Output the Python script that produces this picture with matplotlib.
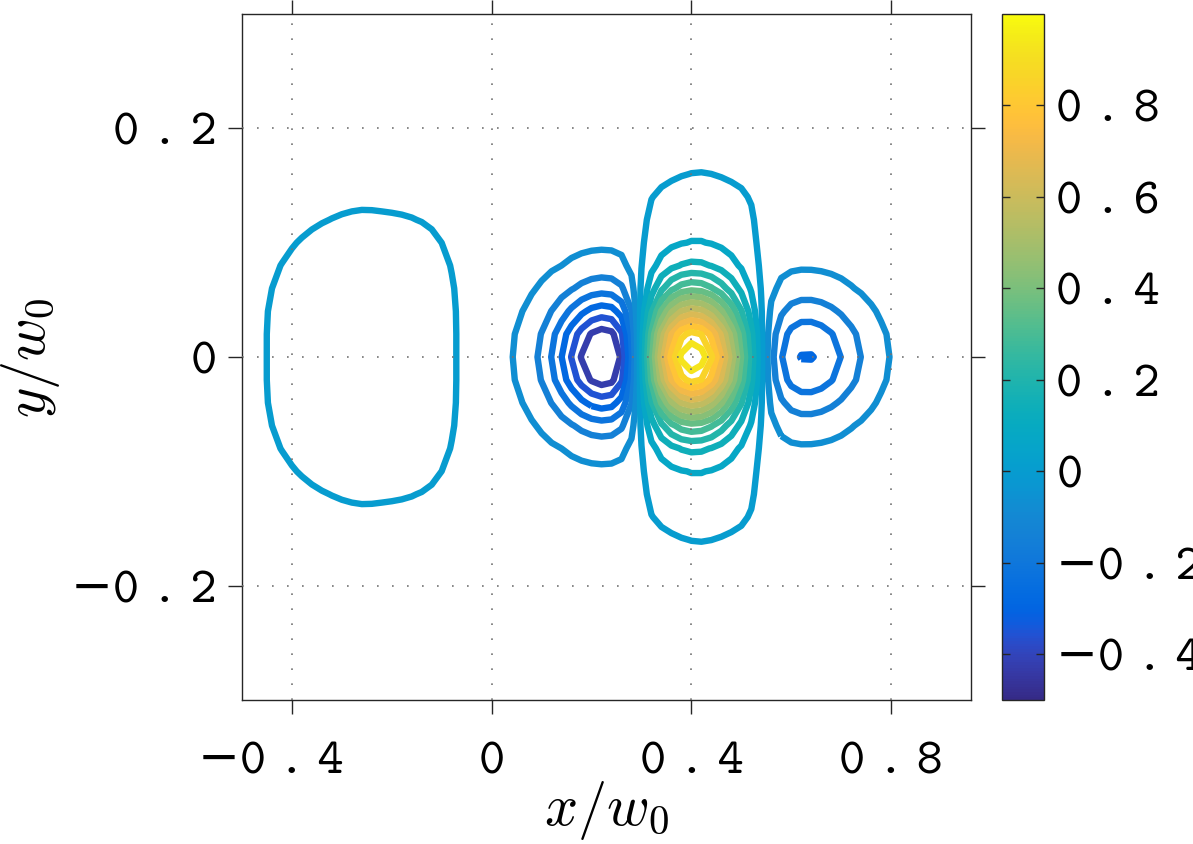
import numpy as np
import matplotlib
matplotlib.use("Agg")
import matplotlib.pyplot as plt
from matplotlib.colors import LinearSegmentedColormap, Normalize
from matplotlib.cm import ScalarMappable
from matplotlib.transforms import blended_transform_factory, ScaledTranslation

plt.rcParams["mathtext.fontset"] = "cm"

# ---------------- data ----------------
# field components: amplitude, centre x, left/right x-width & power, y-width & power
comp_amp = [0.97, -0.53, -0.257, 0.06, 0.03, 0.10, -0.05]
comp_cx = [0.40, 0.243, 0.622, 0.417, 0.415, -0.245, 0.30]
comp_wxl = [0.100, 0.115, 0.100, 0.124, 0.080, 0.167, 0.90]
comp_wxr = [0.105, 0.075, 0.123, 0.124, 0.080, 0.181, 0.90]
comp_pxl = [2, 2, 2, 8, 2, 1.6, 2]
comp_pxr = [2, 2, 2, 8, 2, 4, 2]
comp_wy = [0.055, 0.054, 0.052, 0.160, 0.180, 0.119, 0.30]
comp_py = [2, 2, 2, 6, 4, 3, 2]

contour_levels = [-0.4286, -0.3571, -0.2857, -0.2143, -0.1429, -0.0714, 0.0,
                  0.0714, 0.1429, 0.2143, 0.2857, 0.3571, 0.4286, 0.5,
                  0.5714, 0.6429, 0.7143, 0.7857, 0.8571, 0.9286]
color_limits = [-0.5, 1.0]

x_ticks = [-0.4, 0, 0.4, 0.8]
x_tick_labels = ["-0.4", "0", "0.4", "0.8"]
y_ticks = [-0.2, 0, 0.2]
y_tick_labels = ["-0.2", "0", "0.2"]
cb_ticks = [-0.4, -0.2, 0, 0.2, 0.4, 0.6, 0.8]
cb_tick_labels = ["-0.4", "-0.2", "0", "0.2", "0.4", "0.6", "0.8"]

# ---------------- parula colormap ----------------
parula_rgb = [
    (0.2081, 0.1663, 0.5292), (0.2116, 0.1898, 0.5777), (0.2123, 0.2138, 0.6270),
    (0.2081, 0.2386, 0.6771), (0.1959, 0.2645, 0.7279), (0.1707, 0.2919, 0.7792),
    (0.1253, 0.3242, 0.8303), (0.0591, 0.3598, 0.8683), (0.0117, 0.3875, 0.8820),
    (0.0060, 0.4086, 0.8828), (0.0165, 0.4266, 0.8786), (0.0329, 0.4430, 0.8720),
    (0.0498, 0.4586, 0.8641), (0.0629, 0.4737, 0.8554), (0.0723, 0.4887, 0.8467),
    (0.0779, 0.5040, 0.8384), (0.0793, 0.5200, 0.8312), (0.0749, 0.5375, 0.8263),
    (0.0641, 0.5570, 0.8240), (0.0488, 0.5772, 0.8228), (0.0343, 0.5966, 0.8199),
    (0.0265, 0.6137, 0.8135), (0.0239, 0.6287, 0.8038), (0.0231, 0.6418, 0.7913),
    (0.0228, 0.6535, 0.7768), (0.0267, 0.6642, 0.7607), (0.0384, 0.6743, 0.7436),
    (0.0590, 0.6838, 0.7254), (0.0843, 0.6928, 0.7062), (0.1133, 0.7015, 0.6859),
    (0.1453, 0.7098, 0.6646), (0.1801, 0.7177, 0.6424), (0.2178, 0.7250, 0.6193),
    (0.2586, 0.7317, 0.5954), (0.3022, 0.7376, 0.5712), (0.3482, 0.7424, 0.5473),
    (0.3953, 0.7459, 0.5244), (0.4420, 0.7481, 0.5033), (0.4871, 0.7491, 0.4840),
    (0.5300, 0.7491, 0.4661), (0.5709, 0.7485, 0.4494), (0.6099, 0.7473, 0.4337),
    (0.6473, 0.7456, 0.4188), (0.6834, 0.7435, 0.4044), (0.7184, 0.7411, 0.3905),
    (0.7525, 0.7384, 0.3768), (0.7858, 0.7356, 0.3633), (0.8185, 0.7327, 0.3498),
    (0.8507, 0.7299, 0.3360), (0.8824, 0.7274, 0.3217), (0.9139, 0.7258, 0.3063),
    (0.9450, 0.7261, 0.2886), (0.9739, 0.7314, 0.2666), (0.9938, 0.7455, 0.2403),
    (0.9990, 0.7653, 0.2164), (0.9955, 0.7861, 0.1967), (0.9880, 0.8066, 0.1794),
    (0.9789, 0.8271, 0.1633), (0.9697, 0.8481, 0.1475), (0.9626, 0.8705, 0.1309),
    (0.9589, 0.8949, 0.1132), (0.9598, 0.9218, 0.0948), (0.9661, 0.9514, 0.0755),
    (0.9763, 0.9831, 0.0538)]
parula = LinearSegmentedColormap.from_list("parula", parula_rgb, N=256)

# ---------------- field on a coarse grid ----------------
x_grid = np.arange(-0.5, 0.9601, 0.02)
y_grid = np.arange(-0.3, 0.3001, 0.02)
X, Y = np.meshgrid(x_grid, y_grid)
Z = np.zeros_like(X)
for a, cx, wl, wr, pl, pr, wy, py in zip(comp_amp, comp_cx, comp_wxl, comp_wxr,
                                         comp_pxl, comp_pxr, comp_wy, comp_py):
    dx = X - cx
    w = np.where(dx < 0, wl, wr)
    p = np.where(dx < 0, pl, pr)
    Z += a * np.exp(-np.abs(dx / w) ** p - np.abs(Y / wy) ** py)

# ---------------- tick label font (typewriter, widely spaced) ----------------
TT_FAMILY = ["cmtt10", "DejaVu Sans"]
TFS = 36
SPC = "\u2005"


def tt(s):
    neg = s.startswith("-")
    body = SPC.join(s.lstrip("-"))
    return ("\u2212" if neg else "") + body


# ---------------- figure ----------------
W, H = 1193, 845
fig = plt.figure(figsize=(W / 100, H / 100), dpi=100)
ax = fig.add_axes([242 / W, 1 - 701 / H, (971 - 242) / W, (701 - 15) / H])
cax = fig.add_axes([1002 / W, 1 - 701 / H, 42 / W, (701 - 15) / H])

norm = Normalize(*color_limits)
ax.contour(X, Y, Z, levels=contour_levels, cmap=parula, norm=norm,
           linewidths=4.6)

ax.set_xlim(-0.5, 0.96)
ax.set_ylim(-0.3, 0.3)

ax.set_xticks(x_ticks)
ax.set_xticklabels([""] * len(x_ticks))
ax.set_yticks(y_ticks)
ax.set_yticklabels([tt(s) for s in y_tick_labels], fontsize=TFS,
                   family=TT_FAMILY)
ax.tick_params(direction="out", length=10, width=1.0, color="0.15",
               top=True, right=True, pad=8)
for s in ax.spines.values():
    s.set_color("0.15")
    s.set_linewidth(1.0)

# x tick labels: number centred on the tick, minus sign hanging to the left
renderer = fig.canvas.get_renderer()
xtrans = blended_transform_factory(ax.transData, ax.transAxes)
for xv, lab in zip(x_ticks, x_tick_labels):
    num = lab.lstrip("-")
    tmp = ax.text(0, 0, tt(num), fontsize=TFS, family=TT_FAMILY)
    wnum = tmp.get_window_extent(renderer).width
    tmp.remove()
    if lab.startswith("-"):
        off = ScaledTranslation(wnum / 2 / fig.dpi, 0, fig.dpi_scale_trans)
        ax.text(xv, -42 / 686, tt(lab), fontsize=TFS, family=TT_FAMILY,
                ha="right", va="top", transform=xtrans + off)
    else:
        ax.text(xv, -42 / 686, tt(lab), fontsize=TFS, family=TT_FAMILY,
                ha="center", va="top", transform=xtrans)

ax.grid(True, linestyle=(0, (1, 8)), color="0.45", linewidth=1.2)
ax.set_axisbelow(False)

ax.set_xlabel(r"$x/w_0$", fontsize=42)
ax.xaxis.set_label_coords(0.5, -78 / 686)
ax.set_ylabel(r"$y/w_0$", fontsize=42)
ax.yaxis.set_label_coords(-180 / 729, 0.5)

sm = ScalarMappable(norm=norm, cmap=parula)
cb = fig.colorbar(sm, cax=cax)
cb.set_ticks(cb_ticks)
cb.set_ticklabels([tt(s) for s in cb_tick_labels])
for t in cax.get_yticklabels():
    t.set_fontsize(TFS)
    t.set_family(TT_FAMILY)
cax.tick_params(direction="in", length=6, width=1.0, color="0.15",
                left=True, right=True, pad=9)
cb.outline.set_edgecolor("0.15")
cb.outline.set_linewidth(1.0)

fig.savefig("out.png", dpi=100)
